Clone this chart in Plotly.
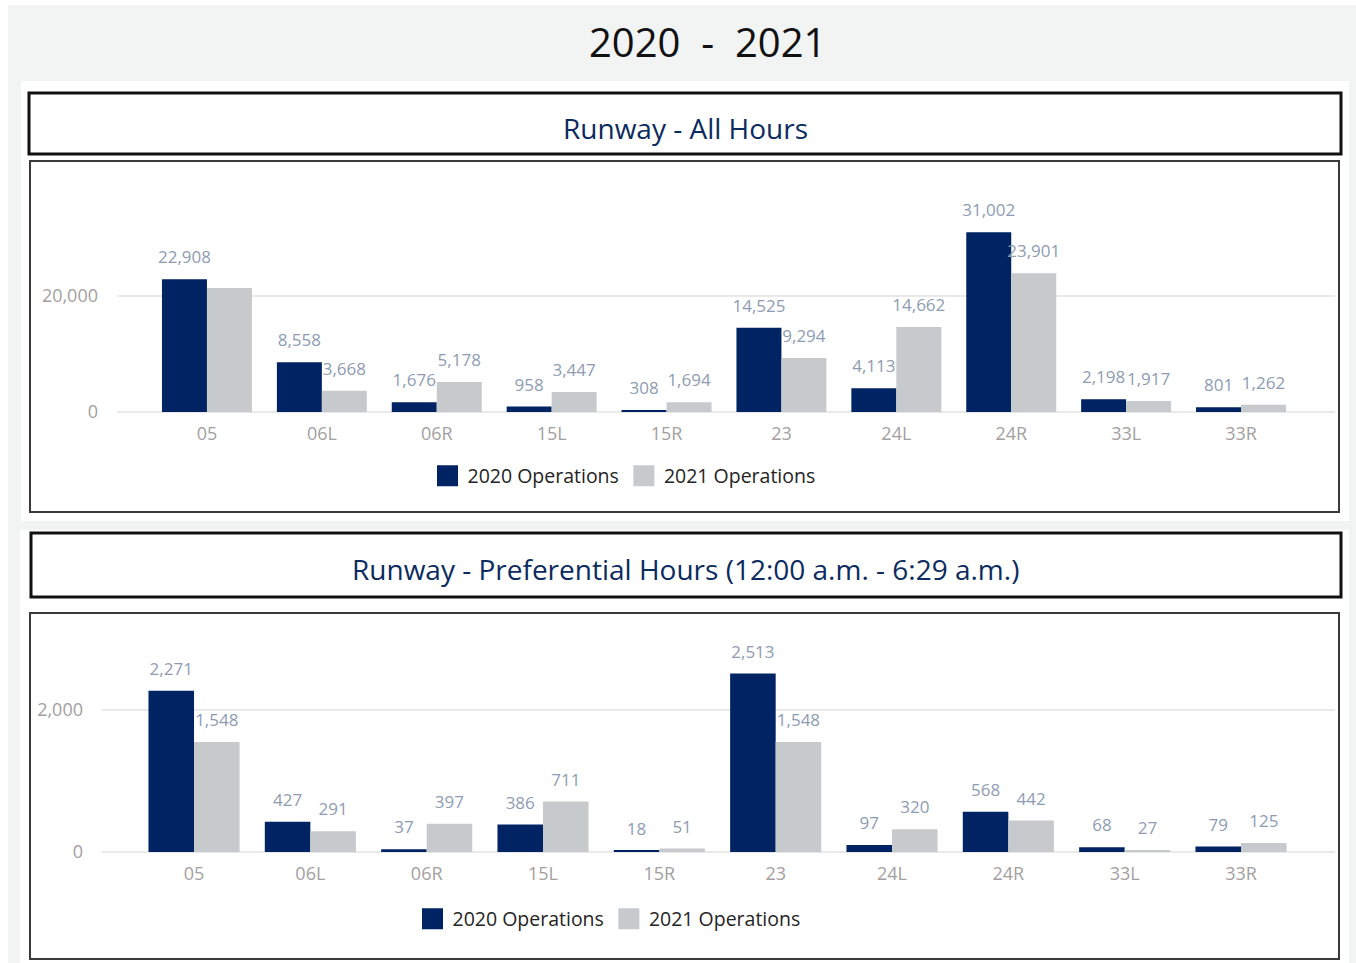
import plotly.graph_objects as go

W, H = 1356, 963

# ---------------- data ----------------
runways = ["05", "06L", "06R", "15L", "15R", "23", "24L", "24R", "33L", "33R"]
all_2020 = [22908, 8558, 1676, 958, 308, 14525, 4113, 31002, 2198, 801]
all_2021 = [21400, 3668, 5178, 3447, 1694, 9294, 14662, 23901, 1917, 1262]
pref_2020 = [2271, 427, 37, 386, 18, 2513, 97, 568, 68, 79]
pref_2021 = [1548, 291, 397, 711, 51, 1548, 320, 442, 27, 125]
hidden_all_2021 = ["05"]  # label not displayed in the original

series_names = ["2020 Operations", "2021 Operations"]
main_title = "2020\u00a0\u00a0-\u00a0\u00a02021"
title_top = "Runway - All Hours"
title_bottom = "Runway - Preferential Hours (12:00 a.m. - 6:29 a.m.)"

# ---------------- style ----------------
NAVY = "#002463"
GREY = "#c6cacd"
LABEL_C = "#8e9cb3"
TICK_C = "#a3a09f"
GRID_C = "#e9e9e9"
TITLE_C = "#0c2b5e"
FONT = "Open Sans"
GAP = 0.217


def fx(px):
    return px / W


def fy(py):
    return 1 - py / H


def labels(vals, cats, hidden=()):
    return ["" if c in hidden else f"{v:,}" for v, c in zip(vals, cats)]


fig = go.Figure()

panels = [
    ("x", "y", all_2020, all_2021, hidden_all_2021),
    ("x2", "y2", pref_2020, pref_2021, ()),
]

for xa, ya, v20, v21, hid21 in panels:
    # bars
    for vals, col in ((v20, NAVY), (v21, GREY)):
        fig.add_trace(go.Bar(x=runways, y=vals, marker_color=col, marker_line_width=0,
                             xaxis=xa, yaxis=ya, showlegend=False, hoverinfo="skip"))
    # data labels (grouped scatter text aligned with the bars)
    for vals, hid in ((v20, ()), (v21, hid21)):
        fig.add_trace(go.Scatter(x=runways, y=vals, mode="markers+text",
                                 text=labels(vals, runways, hid), textposition="top center",
                                 textfont=dict(family=FONT, size=17, color=LABEL_C),
                                 marker=dict(size=17, opacity=0), cliponaxis=False,
                                 xaxis=xa, yaxis=ya, showlegend=False, hoverinfo="skip"))

# legend proxies (larger square swatches) on a hidden helper axis pair
for leg in ("legend", "legend2"):
    for name, col in zip(series_names, (NAVY, GREY)):
        fig.add_trace(go.Scatter(x=[None], y=[None], mode="markers", name=name,
                                 marker=dict(symbol="square", size=16, color=col,
                                             line=dict(width=5, color=col)),
                                 xaxis="x3", yaxis="y3", legend=leg, hoverinfo="skip"))

axis_x = dict(type="category", showgrid=False, zeroline=False, showline=False, ticks="",
              tickfont=dict(family=FONT, size=18, color=TICK_C), ticklabelstandoff=9,
              automargin=False, fixedrange=True)
axis_y = dict(showgrid=True, gridcolor=GRID_C, gridwidth=2, zeroline=True, zerolinecolor=GRID_C,
              zerolinewidth=2, showline=False, ticks="", tickformat=",",
              tickfont=dict(family=FONT, size=18, color=TICK_C), ticklabelstandoff=18,
              automargin=False, fixedrange=True)

# top chart: zero at py 412, 20000 at py 296
top_max = (412 - 200) / (412 - 296) * 20000
# bottom chart: zero at py 852, 2000 at py 710
bot_max = (852 - 640) / (852 - 710) * 2000

fig.update_layout(
    width=W, height=H,
    margin=dict(l=0, r=0, t=0, b=0, autoexpand=False),
    paper_bgcolor="white", plot_bgcolor="rgba(0,0,0,0)",
    barmode="group", bargap=GAP, bargroupgap=0,
    scattermode="group", scattergap=GAP,
    font=dict(family=FONT, color="#252423"),
    xaxis=dict(axis_x, domain=[fx(117), fx(1335)], range=[-0.783, 9.818], anchor="y"),
    yaxis=dict(axis_y, domain=[fy(412), fy(200)], range=[0, top_max], dtick=20000, anchor="x"),
    xaxis2=dict(axis_x, domain=[fx(102), fx(1335)], range=[-0.791, 9.808], anchor="y2"),
    yaxis2=dict(axis_y, domain=[fy(852), fy(640)], range=[0, bot_max], dtick=2000, anchor="x2"),
    xaxis3=dict(visible=False, domain=[0, 0.01], anchor="y3", fixedrange=True),
    yaxis3=dict(visible=False, domain=[0, 0.01], anchor="x3", fixedrange=True),
    legend=dict(orientation="h", x=fx(624), y=fy(476), xanchor="center", yanchor="middle",
                xref="paper", yref="paper", bgcolor="rgba(0,0,0,0)",
                font=dict(family=FONT, size=19.5, color="#252423"), itemclick=False),
    legend2=dict(orientation="h", x=fx(609), y=fy(919), xanchor="center", yanchor="middle",
                 xref="paper", yref="paper", bgcolor="rgba(0,0,0,0)",
                 font=dict(family=FONT, size=19.5, color="#252423"), itemclick=False),
    showlegend=True,
)

shapes = []
# outer grey background
shapes.append(dict(type="rect", xref="paper", yref="paper", x0=fx(8), x1=fx(1356), y0=fy(963), y1=fy(5),
                   fillcolor="#f2f3f3", line_width=0, layer="below"))
# white panels
shapes.append(dict(type="rect", xref="paper", yref="paper", x0=fx(21), x1=fx(1349), y0=fy(521), y1=fy(81),
                   fillcolor="white", line_width=0, layer="below"))
shapes.append(dict(type="rect", xref="paper", yref="paper", x0=fx(20), x1=fx(1349), y0=fy(963), y1=fy(530),
                   fillcolor="white", line_width=0, layer="below"))
# title boxes
shapes.append(dict(type="rect", xref="paper", yref="paper", x0=fx(29), x1=fx(1341), y0=fy(154), y1=fy(93),
                   fillcolor="white", line=dict(color="#111111", width=3), layer="below"))
shapes.append(dict(type="rect", xref="paper", yref="paper", x0=fx(31), x1=fx(1341), y0=fy(597), y1=fy(533),
                   fillcolor="white", line=dict(color="#111111", width=3), layer="below"))
# chart boxes
shapes.append(dict(type="rect", xref="paper", yref="paper", x0=fx(30), x1=fx(1339), y0=fy(512), y1=fy(161),
                   fillcolor="white", line=dict(color="#3a3a3a", width=2), layer="below"))
shapes.append(dict(type="rect", xref="paper", yref="paper", x0=fx(30), x1=fx(1339), y0=fy(959), y1=fy(613),
                   fillcolor="white", line=dict(color="#3a3a3a", width=2), layer="below"))
fig.update_layout(shapes=shapes)

fig.add_annotation(text=main_title, x=fx(707), y=fy(41), xref="paper", yref="paper",
                   xanchor="center", yanchor="middle", showarrow=False,
                   font=dict(family=FONT, size=40, color="#111111"))
fig.add_annotation(text=title_top, x=fx(685), y=fy(128), xref="paper", yref="paper",
                   xanchor="center", yanchor="middle", showarrow=False,
                   font=dict(family=FONT, size=28, color=TITLE_C))
fig.add_annotation(text=title_bottom, x=fx(685), y=fy(569), xref="paper", yref="paper",
                   xanchor="center", yanchor="middle", showarrow=False,
                   font=dict(family=FONT, size=28, color=TITLE_C))

fig.write_html("out.html", config={"displayModeBar": False},
               post_script="document.body.style.margin='0';document.body.style.overflow='hidden';")
